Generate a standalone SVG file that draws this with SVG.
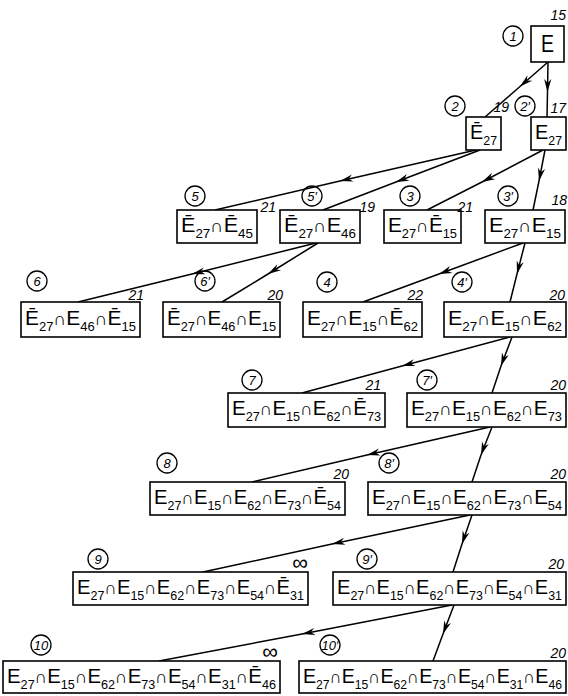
<svg xmlns="http://www.w3.org/2000/svg" width="568" height="696" viewBox="0 0 568 696">
<style>
rect.b{fill:#fff;stroke:#000;stroke-width:1.6}
ellipse.c{fill:none;stroke:#000;stroke-width:1.3}
text{font-family:"Liberation Sans","DejaVu Sans",sans-serif;fill:#000}
.t{font-size:21px}
.s{font-size:13px}
.i{font-size:18px}
.n{font-size:13px;font-style:italic;text-anchor:middle}
.w{font-size:14px;font-style:italic;text-anchor:end}
.inf{font-size:22px;text-anchor:end}
#links path{fill:none;stroke:#000;stroke-width:1.5;marker-mid:url(#ah)}
</style>
<defs>
<marker id="ah" markerUnits="userSpaceOnUse" orient="auto" markerWidth="16" markerHeight="10" refX="0" refY="0" viewBox="-14 -5 16 10" overflow="visible">
<path d="M0,0 L-13,-3.6 L-9,0 L-13,3.6 Z" fill="#000"/>
</marker>
</defs>
<g id="links">
<path d="M548,62 L520,86.5 L485,117"/>
<path d="M548,62 L547.5,92 L547,117"/>
<path d="M476,150 L340,181 L215,210"/>
<path d="M480,150 L396,182 L323,210"/>
<path d="M543,150 L482,182 L427,210"/>
<path d="M545,150 L539,181 L533,210"/>
<path d="M316,243 L192,274 L78,302"/>
<path d="M318,243 L268,274 L222,302"/>
<path d="M523,243 L439,274 L363,302"/>
<path d="M525,243 L517,274 L510,302"/>
<path d="M510,337 L402,366 L302,393"/>
<path d="M512,337 L501,366 L492,393"/>
<path d="M490,427 L367,455 L252,482"/>
<path d="M492,427 L481,455 L472,482"/>
<path d="M470,515 L332,544 L203,572"/>
<path d="M472,515 L462,544 L453,572"/>
<path d="M452,605 L302,634 L159,661"/>
<path d="M454,605 L443,634 L433,661"/>
</g>
<g id="n1">
<ellipse class="c" cx="513" cy="36" rx="10" ry="10"/><text class="n" x="513" y="41">1</text>
<rect class="b" x="531" y="26" width="33" height="36"/>
<text x="541" y="52" font-size="24" textLength="13" lengthAdjust="spacingAndGlyphs">E</text>
<text class="w" x="566" y="20">15</text>
</g>
<g id="n2">
<ellipse class="c" cx="455" cy="106" rx="10" ry="10"/><text class="n" x="455" y="111">2</text>
<rect class="b" x="466" y="117" width="35" height="33"/>
<text class="t" x="470" y="139" textLength="27" lengthAdjust="spacingAndGlyphs">Ē<tspan class="s" dy="6">27</tspan></text>
<text class="w" x="509" y="112">19</text>
</g>
<g id="n2p">
<ellipse class="c" cx="525" cy="106" rx="10" ry="10"/><text class="n" x="525" y="111">2′</text>
<rect class="b" x="531" y="117" width="35" height="33"/>
<text class="t" x="535" y="139" textLength="27" lengthAdjust="spacingAndGlyphs">E<tspan class="s" dy="6">27</tspan></text>
<text class="w" x="566" y="113">17</text>
</g>
<g id="n5">
<ellipse class="c" cx="195" cy="196" rx="10" ry="10"/><text class="n" x="195" y="201">5</text>
<rect class="b" x="177" y="210" width="80" height="33"/>
<text class="t" x="181" y="232" textLength="72" lengthAdjust="spacingAndGlyphs">Ē<tspan class="s" dy="6">27</tspan><tspan class="i" dy="-6">∩</tspan>Ē<tspan class="s" dy="6">45</tspan></text>
<text class="w" x="276" y="212">21</text>
</g>
<g id="n5p">
<ellipse class="c" cx="312" cy="196" rx="10" ry="10"/><text class="n" x="312" y="201">5′</text>
<rect class="b" x="280" y="210" width="80" height="33"/>
<text class="t" x="284" y="232" textLength="72" lengthAdjust="spacingAndGlyphs">Ē<tspan class="s" dy="6">27</tspan><tspan class="i" dy="-6">∩</tspan>E<tspan class="s" dy="6">46</tspan></text>
<text class="w" x="375" y="212">19</text>
</g>
<g id="n3">
<ellipse class="c" cx="410" cy="196" rx="10" ry="10"/><text class="n" x="410" y="201">3</text>
<rect class="b" x="384" y="210" width="77" height="33"/>
<text class="t" x="388" y="232" textLength="69" lengthAdjust="spacingAndGlyphs">E<tspan class="s" dy="6">27</tspan><tspan class="i" dy="-6">∩</tspan>Ē<tspan class="s" dy="6">15</tspan></text>
<text class="w" x="473" y="212">21</text>
</g>
<g id="n3p">
<ellipse class="c" cx="508" cy="196" rx="10" ry="10"/><text class="n" x="508" y="201">3′</text>
<rect class="b" x="485" y="210" width="80" height="33"/>
<text class="t" x="489" y="232" textLength="72" lengthAdjust="spacingAndGlyphs">E<tspan class="s" dy="6">27</tspan><tspan class="i" dy="-6">∩</tspan>E<tspan class="s" dy="6">15</tspan></text>
<text class="w" x="567" y="205">18</text>
</g>
<g id="n6">
<ellipse class="c" cx="37" cy="281" rx="10" ry="10"/><text class="n" x="37" y="286">6</text>
<rect class="b" x="21" y="302" width="119" height="35"/>
<text class="t" x="25" y="325" textLength="111" lengthAdjust="spacingAndGlyphs">Ē<tspan class="s" dy="6">27</tspan><tspan class="i" dy="-6">∩</tspan>E<tspan class="s" dy="6">46</tspan><tspan class="i" dy="-6">∩</tspan>Ē<tspan class="s" dy="6">15</tspan></text>
<text class="w" x="144" y="300">21</text>
</g>
<g id="n6p">
<ellipse class="c" cx="205" cy="281" rx="10" ry="10"/><text class="n" x="205" y="286">6′</text>
<rect class="b" x="163" y="302" width="117" height="35"/>
<text class="t" x="167" y="325" textLength="109" lengthAdjust="spacingAndGlyphs">Ē<tspan class="s" dy="6">27</tspan><tspan class="i" dy="-6">∩</tspan>E<tspan class="s" dy="6">46</tspan><tspan class="i" dy="-6">∩</tspan>E<tspan class="s" dy="6">15</tspan></text>
<text class="w" x="283" y="300">20</text>
</g>
<g id="n4">
<ellipse class="c" cx="327" cy="282" rx="10" ry="10"/><text class="n" x="327" y="287">4</text>
<rect class="b" x="303" y="302" width="119" height="35"/>
<text class="t" x="307" y="325" textLength="111" lengthAdjust="spacingAndGlyphs">E<tspan class="s" dy="6">27</tspan><tspan class="i" dy="-6">∩</tspan>E<tspan class="s" dy="6">15</tspan><tspan class="i" dy="-6">∩</tspan>Ē<tspan class="s" dy="6">62</tspan></text>
<text class="w" x="423" y="300">22</text>
</g>
<g id="n4p">
<ellipse class="c" cx="462" cy="282" rx="10" ry="10"/><text class="n" x="462" y="287">4′</text>
<rect class="b" x="444" y="302" width="122" height="35"/>
<text class="t" x="448" y="325" textLength="114" lengthAdjust="spacingAndGlyphs">E<tspan class="s" dy="6">27</tspan><tspan class="i" dy="-6">∩</tspan>E<tspan class="s" dy="6">15</tspan><tspan class="i" dy="-6">∩</tspan>E<tspan class="s" dy="6">62</tspan></text>
<text class="w" x="565" y="300">20</text>
</g>
<g id="n7">
<ellipse class="c" cx="252" cy="380" rx="10" ry="10"/><text class="n" x="252" y="385">7</text>
<rect class="b" x="228" y="393" width="157" height="34"/>
<text class="t" x="232" y="415" textLength="149" lengthAdjust="spacingAndGlyphs">E<tspan class="s" dy="6">27</tspan><tspan class="i" dy="-6">∩</tspan>E<tspan class="s" dy="6">15</tspan><tspan class="i" dy="-6">∩</tspan>E<tspan class="s" dy="6">62</tspan><tspan class="i" dy="-6">∩</tspan>Ē<tspan class="s" dy="6">73</tspan></text>
<text class="w" x="381" y="390">21</text>
</g>
<g id="n7p">
<ellipse class="c" cx="427" cy="380" rx="10" ry="10"/><text class="n" x="427" y="385">7′</text>
<rect class="b" x="407" y="393" width="159" height="34"/>
<text class="t" x="411" y="415" textLength="151" lengthAdjust="spacingAndGlyphs">E<tspan class="s" dy="6">27</tspan><tspan class="i" dy="-6">∩</tspan>E<tspan class="s" dy="6">15</tspan><tspan class="i" dy="-6">∩</tspan>E<tspan class="s" dy="6">62</tspan><tspan class="i" dy="-6">∩</tspan>E<tspan class="s" dy="6">73</tspan></text>
<text class="w" x="566" y="390">20</text>
</g>
<g id="n8">
<ellipse class="c" cx="167" cy="463" rx="10" ry="10"/><text class="n" x="167" y="468">8</text>
<rect class="b" x="150" y="482" width="195" height="33"/>
<text class="t" x="154" y="504" textLength="187" lengthAdjust="spacingAndGlyphs">E<tspan class="s" dy="6">27</tspan><tspan class="i" dy="-6">∩</tspan>E<tspan class="s" dy="6">15</tspan><tspan class="i" dy="-6">∩</tspan>E<tspan class="s" dy="6">62</tspan><tspan class="i" dy="-6">∩</tspan>E<tspan class="s" dy="6">73</tspan><tspan class="i" dy="-6">∩</tspan>Ē<tspan class="s" dy="6">54</tspan></text>
<text class="w" x="349" y="479">20</text>
</g>
<g id="n8p">
<ellipse class="c" cx="389" cy="463" rx="10" ry="10"/><text class="n" x="389" y="468">8′</text>
<rect class="b" x="368" y="482" width="198" height="33"/>
<text class="t" x="372" y="504" textLength="190" lengthAdjust="spacingAndGlyphs">E<tspan class="s" dy="6">27</tspan><tspan class="i" dy="-6">∩</tspan>E<tspan class="s" dy="6">15</tspan><tspan class="i" dy="-6">∩</tspan>E<tspan class="s" dy="6">62</tspan><tspan class="i" dy="-6">∩</tspan>E<tspan class="s" dy="6">73</tspan><tspan class="i" dy="-6">∩</tspan>E<tspan class="s" dy="6">54</tspan></text>
<text class="w" x="566" y="479">20</text>
</g>
<g id="n9">
<ellipse class="c" cx="98" cy="559" rx="10" ry="10"/><text class="n" x="98" y="564">9</text>
<rect class="b" x="73" y="572" width="235" height="33"/>
<text class="t" x="77" y="594" textLength="227" lengthAdjust="spacingAndGlyphs">E<tspan class="s" dy="6">27</tspan><tspan class="i" dy="-6">∩</tspan>E<tspan class="s" dy="6">15</tspan><tspan class="i" dy="-6">∩</tspan>E<tspan class="s" dy="6">62</tspan><tspan class="i" dy="-6">∩</tspan>E<tspan class="s" dy="6">73</tspan><tspan class="i" dy="-6">∩</tspan>E<tspan class="s" dy="6">54</tspan><tspan class="i" dy="-6">∩</tspan>Ē<tspan class="s" dy="6">31</tspan></text>
<text class="inf" x="308" y="570">∞</text>
</g>
<g id="n9p">
<ellipse class="c" cx="367" cy="559" rx="10" ry="10"/><text class="n" x="367" y="564">9′</text>
<rect class="b" x="333" y="572" width="233" height="33"/>
<text class="t" x="337" y="594" textLength="225" lengthAdjust="spacingAndGlyphs">E<tspan class="s" dy="6">27</tspan><tspan class="i" dy="-6">∩</tspan>E<tspan class="s" dy="6">15</tspan><tspan class="i" dy="-6">∩</tspan>E<tspan class="s" dy="6">62</tspan><tspan class="i" dy="-6">∩</tspan>E<tspan class="s" dy="6">73</tspan><tspan class="i" dy="-6">∩</tspan>E<tspan class="s" dy="6">54</tspan><tspan class="i" dy="-6">∩</tspan>E<tspan class="s" dy="6">31</tspan></text>
<text class="w" x="564" y="569">20</text>
</g>
<g id="n10">
<ellipse class="c" cx="41" cy="645" rx="10" ry="10"/><text class="n" x="41" y="650">10</text>
<rect class="b" x="3" y="661" width="277" height="32"/>
<text class="t" x="7" y="683" textLength="269" lengthAdjust="spacingAndGlyphs">E<tspan class="s" dy="6">27</tspan><tspan class="i" dy="-6">∩</tspan>E<tspan class="s" dy="6">15</tspan><tspan class="i" dy="-6">∩</tspan>E<tspan class="s" dy="6">62</tspan><tspan class="i" dy="-6">∩</tspan>E<tspan class="s" dy="6">73</tspan><tspan class="i" dy="-6">∩</tspan>E<tspan class="s" dy="6">54</tspan><tspan class="i" dy="-6">∩</tspan>E<tspan class="s" dy="6">31</tspan><tspan class="i" dy="-6">∩</tspan>Ē<tspan class="s" dy="6">46</tspan></text>
<text class="inf" x="278" y="659">∞</text>
</g>
<g id="n10p">
<ellipse class="c" cx="330" cy="645" rx="10" ry="10"/><text class="n" x="330" y="650">10′</text>
<rect class="b" x="299" y="661" width="267" height="32"/>
<text class="t" x="303" y="683" textLength="259" lengthAdjust="spacingAndGlyphs">E<tspan class="s" dy="6">27</tspan><tspan class="i" dy="-6">∩</tspan>E<tspan class="s" dy="6">15</tspan><tspan class="i" dy="-6">∩</tspan>E<tspan class="s" dy="6">62</tspan><tspan class="i" dy="-6">∩</tspan>E<tspan class="s" dy="6">73</tspan><tspan class="i" dy="-6">∩</tspan>E<tspan class="s" dy="6">54</tspan><tspan class="i" dy="-6">∩</tspan>E<tspan class="s" dy="6">31</tspan><tspan class="i" dy="-6">∩</tspan>E<tspan class="s" dy="6">46</tspan></text>
<text class="w" x="566" y="658">20</text>
</g>
</svg>
